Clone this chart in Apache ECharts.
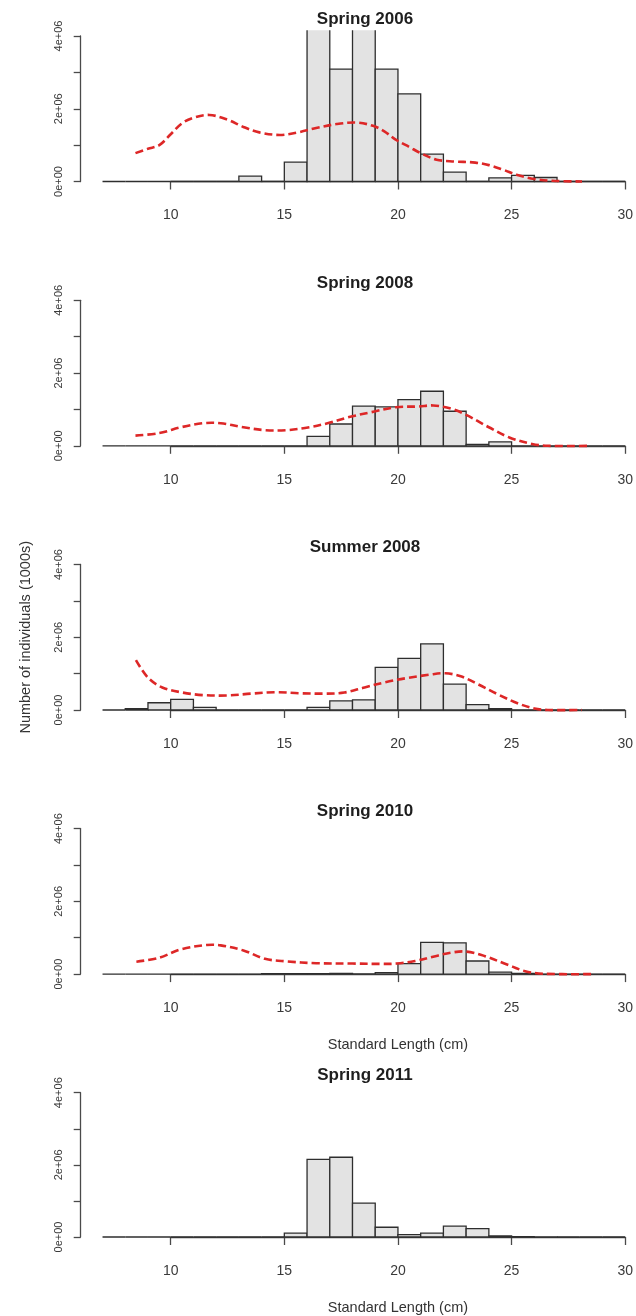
<!DOCTYPE html>
<html>
<head>
<meta charset="utf-8">
<script src="https://cdn.jsdelivr.net/npm/echarts@6/dist/echarts.min.js"></script>
<style>html,body{margin:0;padding:0;background:#fff}#c{width:636px;height:1316px}</style>
</head>
<body>
<div id="c"></div>
<script>
// ---- data ----
const panelTitles = ['Spring 2006', 'Spring 2008', 'Summer 2008', 'Spring 2010', 'Spring 2011'];
const binEdges = [7,8,9,10,11,12,13,14,15,16,17,18,19,20,21,22,23,24,25,26,27,28,29,30];
// counts per 1-cm bin, in millions of individuals (x1000s)
const spring2006 = [0,0,0,0,0,0,0.146,0,0.53,4.6,3.09,4.6,3.09,2.41,0.75,0.256,0,0.1,0.17,0.11,0,0,0];
const spring2008 = [0,0,0,0,0,0,0,0,0,0.26,0.60,1.09,1.07,1.27,1.50,0.95,0.04,0.11,0,0,0,0,0];
const summer2008 = [0,0.04,0.2,0.29,0.07,0,0,0,0,0.07,0.25,0.28,1.17,1.42,1.82,0.71,0.15,0.04,0,0,0,0,0];
const spring2010 = [0,0,0,0,0,0,0,0.01,0.01,0.01,0.02,0.005,0.04,0.29,0.87,0.86,0.36,0.055,0.02,0,0,0,0];
const spring2011 = [0,0,0,0,0,0,0,0,0.11,2.15,2.21,0.94,0.27,0.065,0.11,0.30,0.23,0.03,0.008,0.005,0,0,0];
// dashed density curves [length cm, millions]
const curve2006 = [[8.45,0.78],[9.0,0.9],[9.5,1.0],[10.0,1.3],[10.5,1.6],[11.0,1.75],[11.7,1.83],[12.5,1.7],[13.2,1.5],[13.9,1.35],[14.8,1.28],[15.6,1.35],[16.4,1.47],[17.3,1.58],[18.2,1.62],[18.9,1.53],[19.4,1.38],[19.9,1.15],[20.5,0.95],[21.0,0.78],[21.7,0.6],[22.5,0.55],[23.4,0.52],[24.0,0.45],[24.6,0.33],[25.3,0.17],[26.0,0.07],[26.8,0.02],[28.1,0]];
const curve2008 = [[8.45,0.28],[9.5,0.35],[10.45,0.51],[11.4,0.62],[12.2,0.62],[13.2,0.51],[14.15,0.43],[15.1,0.43],[16.1,0.51],[16.9,0.62],[17.85,0.79],[18.8,0.92],[19.9,1.06],[20.9,1.08],[21.55,1.11],[22.35,1.02],[23.0,0.85],[24.0,0.51],[24.9,0.23],[25.9,0.05],[26.6,0.0],[28.4,0]];
const curveSummer2008 = [[8.47,1.37],[9.0,0.89],[9.63,0.62],[10.52,0.48],[11.41,0.41],[12.48,0.40],[13.54,0.45],[14.61,0.49],[15.68,0.46],[16.75,0.45],[17.64,0.48],[18.53,0.62],[19.42,0.76],[20.31,0.87],[21.38,0.97],[22.08,1.01],[22.8,0.92],[23.51,0.71],[24.4,0.43],[25.29,0.18],[26.0,0.04],[26.6,0],[28.1,0]];
const curve2010 = [[8.49,0.34],[9.49,0.45],[10.45,0.68],[11.58,0.80],[12.2,0.79],[13.2,0.65],[14.15,0.42],[15.1,0.35],[16.4,0.30],[18.0,0.29],[19.3,0.28],[19.94,0.29],[20.75,0.36],[21.55,0.48],[22.35,0.59],[23.0,0.62],[23.8,0.50],[24.77,0.27],[25.6,0.08],[26.4,0.01],[28.5,0]];
const panelCounts = [spring2006, spring2008, summer2008, spring2010, spring2011];
const panelCurves = [curve2006, curve2008, curveSummer2008, curve2010, null];
const yTickLabels = ['0e+00', '', '2e+06', '', '4e+06'];
const xAxisTitle = 'Standard Length (cm)';
const yAxisTitle = 'Number of individuals (1000s)';

// ---- layout / style ----
const yClip = 4.16;           // top of plotting region (ylim max + 4%)
const FONT = '"Liberation Sans", Arial, Helvetica, sans-serif';
const axisColor = '#4a4a4a';
const gridLeft = 170.7, gridWidth = 456.3;
const tops = [36, 300.3, 564.5, 828.6, 1092.7];
const gridH = 145.5;

const grids = [], xAxes = [], yAxes = [], series = [], graphics = [];
tops.forEach((t, i) => {
  grids.push({ left: gridLeft, top: t, width: gridWidth, height: gridH, containLabel: false });
  const xAx = {
    type: 'value', gridIndex: i, min: 10, max: 30, interval: 5, offset: 6,
    axisLine: { show: true, lineStyle: { color: axisColor, width: 1.3 } },
    axisTick: { show: true, length: 8, lineStyle: { color: axisColor, width: 1.3 } },
    axisLabel: { color: '#3a3a3a', fontSize: 14, fontFamily: FONT, margin: 21 },
    splitLine: { show: false }
  };
  if (i >= 3) {
    xAx.name = xAxisTitle; xAx.nameLocation = 'middle'; xAx.nameGap = 57;
    xAx.nameTextStyle = { color: '#333', fontSize: 14.5, fontFamily: FONT };
  }
  xAxes.push(xAx);
  const yAx = {
    type: 'value', gridIndex: i, min: 0, max: 4, interval: 1, offset: 90,
    axisLine: { show: true, lineStyle: { color: axisColor, width: 1.3 } },
    axisTick: { show: true, length: 7, lineStyle: { color: axisColor, width: 1.3 } },
    axisLabel: { color: '#3a3a3a', fontSize: 11, fontFamily: FONT, rotate: 90, margin: 16,
      formatter: v => yTickLabels[Math.round(v)] || '' },
    splitLine: { show: false }
  };
  if (i === 2) {
    yAx.name = yAxisTitle; yAx.nameLocation = 'middle'; yAx.nameGap = 47;
    yAx.nameTextStyle = { color: '#333', fontSize: 14.5, fontFamily: FONT };
  }
  yAxes.push(yAx);

  const counts = panelCounts[i];
  const binData = counts.map((v, k) => [binEdges[k], binEdges[k + 1], v]);
  series.push({
    type: 'custom', xAxisIndex: i, yAxisIndex: i, clip: false, silent: true,
    data: binData,
    renderItem: (params, api) => {
      const x0 = api.value(0), x1 = api.value(1), v = api.value(2);
      const clipped = v > yClip;
      const pb0 = api.coord([x0, 0]);
      const pt1 = api.coord([x1, Math.min(v, yClip)]);
      const l = pb0[0], r = pt1[0], b = pb0[1], tp = pt1[1];
      const pts = clipped ? [[l, tp], [l, b], [r, b], [r, tp]] : [[l, b], [l, tp], [r, tp], [r, b], [l, b]];
      return {
        type: 'group',
        children: [
          { type: 'rect', shape: { x: l, y: tp, width: r - l, height: b - tp }, style: { fill: '#e3e3e3', stroke: null } },
          { type: 'polyline', shape: { points: pts }, style: { stroke: '#2e2e2e', lineWidth: 1.3, fill: null } }
        ]
      };
    }
  });
  const curve = panelCurves[i];
  if (curve) {
    series.push({
      type: 'custom', xAxisIndex: i, yAxisIndex: i, clip: false, silent: true, z: 5,
      data: curve,
      renderItem: (params, api) => {
        if (params.dataIndex !== 0) return null;
        const pts = curve.map(p => api.coord(p));
        return {
          type: 'polyline',
          shape: { points: pts, smooth: 0.35 },
          style: { stroke: '#dd2727', lineWidth: 2.6, fill: null, lineDash: [8, 4] }
        };
      }
    });
  }
  graphics.push({
    type: 'text', x: 365, y: t - 17,
    style: { text: panelTitles[i], font: 'bold 17px ' + FONT, fill: '#1e1e1e',
      textAlign: 'center', textVerticalAlign: 'middle', align: 'center', verticalAlign: 'middle' }
  });
});

const chart = echarts.init(document.getElementById('c'), null, { renderer: 'canvas' });
chart.setOption({
  backgroundColor: '#ffffff',
  animation: false,
  grid: grids, xAxis: xAxes, yAxis: yAxes, series: series,
  graphic: graphics
});
</script>
</body>
</html>
